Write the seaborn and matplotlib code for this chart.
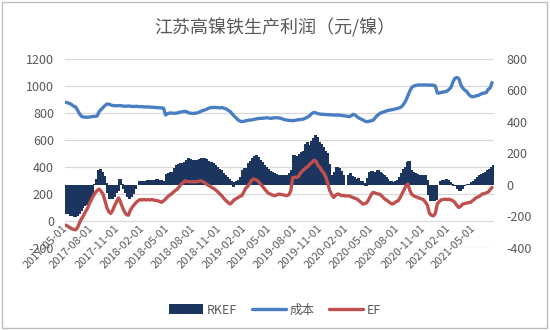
import numpy as np
import pandas as pd
import matplotlib
matplotlib.use("Agg")
import matplotlib.pyplot as plt
import matplotlib.dates as mdates
from matplotlib.patches import Patch, Rectangle
from matplotlib.lines import Line2D
import seaborn as sns

# Weekly series, starting 2017-05-01
start_date = "2017-05-01"

# Production cost (left axis)
cost = [
    879, 875, 870, 862, 850, 845, 820, 795, 775, 770,
    770, 768, 770, 772, 775, 775, 778, 810, 825, 840,
    855, 866, 866, 860, 855, 855, 853, 855, 855, 852,
    850, 850, 852, 850, 848, 848, 850, 848, 847, 847,
    845, 845, 845, 843, 843, 842, 840, 840, 838, 838,
    835, 785, 795, 800, 800, 798, 798, 800, 805, 808,
    810, 812, 808, 800, 798, 797, 798, 800, 805, 812,
    818, 822, 828, 835, 840, 840, 842, 840, 840, 838,
    840, 835, 830, 820, 812, 795, 778, 765, 750, 740,
    736, 738, 742, 745, 748, 748, 752, 755, 758, 760,
    760, 762, 763, 765, 762, 760, 763, 765, 765, 763,
    760, 755, 750, 748, 745, 745, 743, 745, 748, 750,
    752, 753, 758, 765, 772, 785, 798, 805, 800, 795,
    792, 790, 790, 788, 788, 787, 786, 785, 785, 785,
    784, 782, 780, 778, 775, 773, 780, 790, 785, 772,
    762, 755, 748, 740, 736, 738, 742, 745, 760, 778,
    790, 800, 805, 810, 815, 820, 822, 825, 828, 832,
    835, 840, 850, 870, 895, 930, 965, 990, 1000, 1005,
    1007, 1008, 1007, 1008, 1008, 1007, 1006, 1007, 1006, 1000,
    948, 948, 952, 955, 958, 962, 975, 990, 1030, 1057,
    1063, 1055, 1010, 985, 970, 960, 940, 925, 920, 922,
    928, 930, 938, 945, 948, 950, 975, 985, 1025,
]

# RKEF profit (right axis)
rkef = [
    -180, -182, -192, -196, -198, -196, -180, -165, -143, -130,
    -122, -110, -90, -60, 5, 38, 90, 100, 80, 57,
    10, -50, -85, -88, -70, -50, -38, 35, 5, -20,
    -50, -75, -88, -70, -55, -25, 0, 22, 25, 25,
    22, 28, 25, 30, 30, 28, 32, 30, 28, 15,
    20, 68, 75, 80, 82, 105, 123, 130, 135, 138,
    145, 155, 166, 160, 155, 155, 150, 155, 160, 166,
    166, 160, 150, 145, 140, 135, 125, 110, 100, 90,
    75, 62, 50, 35, 22, -10, 15, 25, 30, 45,
    90, 102, 0, 137, 150, 166, 178, 187, 175, 155,
    140, 125, 112, 100, 85, 80, 72, 65, 62, 58,
    60, 55, 62, 58, 75, 90, 187, 180, 176, 195,
    208, 210, 260, 272, 250, 275, 293, 315, 300, 272,
    255, 240, 215, 198, 130, 25, 60, 80, 112, 105,
    85, 60, 0, 0, 60, 70, 55, 45, 38, 40,
    25, 22, 10, -5, 40, 80, 85, 80, 75, 90,
    80, 70, 60, 46, 35, 25, 20, 17, 20, 30,
    46, 70, 100, 113, 140, 151, 91, 78, 70, 65,
    60, 62, 60, 58, 30, -60, -100, -100, -98, -90,
    0, 25, 30, 28, 32, 30, 17, 5, -5, -5,
    -25, -32, -20, -5, 0, 5, 5, 15, 25, 35,
    50, 60, 65, 75, 80, 90, 100, 113, 122,
]

# EF profit (right axis)
ef = [
    -255, -262, -270, -278, -282, -285, -270, -240, -215, -195,
    -170, -150, -120, -95, -70, -50, -35, -26, -40, -57,
    -100, -143, -170, -180, -160, -130, -105, -82, -110, -143,
    -170, -188, -192, -160, -140, -125, -110, -100, -92, -95,
    -92, -95, -93, -95, -92, -96, -98, -100, -105, -110,
    -100, -90, -75, -65, -57, -45, -35, -26, -10, 5,
    15, 27, 22, 21, 21, 21, 20, 21, 24, 27,
    22, 15, 5, -3, -10, -18, -25, -35, -47, -60,
    -72, -88, -100, -112, -121, -110, -95, -88, -80, -72,
    -68, -45, -20, -10, 10, 30, 38, 35, 27, 15,
    0, -15, -30, -45, -55, -60, -65, -68, -62, -58,
    -60, -62, -65, -68, -62, -40, 45, 50, 48, 55,
    75, 90, 100, 112, 120, 135, 144, 158, 150, 123,
    110, 90, 75, 50, 10, -36, -60, -79, -65, -57,
    -60, -68, -66, -70, -68, -70, -75, -80, -85, -90,
    -100, -110, -121, -118, -111, -90, -65, -47, -50, -55,
    -57, -62, -75, -88, -95, -105, -115, -121, -115, -105,
    -100, -80, -55, -30, -5, 6, -36, -60, -70, -75,
    -79, -85, -88, -95, -110, -130, -180, -192, -196, -180,
    -120, -105, -95, -92, -90, -92, -90, -95, -100, -111,
    -130, -143, -135, -121, -118, -115, -112, -110, -100, -90,
    -80, -75, -68, -57, -55, -50, -45, -30, -15,
]

tick_dates = pd.date_range("2017-05-01", "2021-05-01", freq="3MS")
tick_labels = [d.strftime("%Y-%m-%d") for d in tick_dates]

dates = pd.date_range(start_date, periods=len(cost), freq="7D")
df = pd.DataFrame({"date": dates, "成本": cost, "RKEF": rkef, "EF": ef})

sns.set_theme(style="white")
plt.rcParams["font.family"] = ["Noto Sans CJK SC", "DejaVu Sans"]
plt.rcParams["axes.unicode_minus"] = False

GRAY = "#595959"
NAVY = "#1C355E"
BLUE = "#4A7EC2"
RED = "#C0504D"

fig = plt.figure(figsize=(5.5, 3.3), dpi=100)
ax = fig.add_axes([65 / 550, 1 - 248 / 330, 429 / 550, 189 / 330])
ax2 = ax.twinx()

# Left axis: cost line and grid
ax.set_ylim(-200, 1200)
ax.set_yticks(np.arange(-200, 1201, 200))
ax.yaxis.grid(True, color="#D9D9D9", linewidth=0.9)
ax.set_axisbelow(True)
sns.lineplot(data=df, x="date", y="成本", ax=ax, color=BLUE, linewidth=2.4, legend=False)

# Right axis: RKEF weekly bars on numeric date positions, overlapping slightly
# and rendered without antialiasing so the columns merge into one block
ax2.set_ylim(-400, 800)
ax2.set_yticks(np.arange(-400, 801, 200))
bar_x = mdates.date2num(df["date"].dt.to_pydatetime())
ax2.bar(bar_x, df["RKEF"].to_numpy(), width=9.0, align="edge", color=NAVY,
        linewidth=0, antialiased=False, snap=False)
sns.lineplot(data=df, x="date", y="EF", ax=ax2, color=RED, linewidth=2.4, legend=False)

ax.set_xlim(pd.Timestamp("2017-04-28"), pd.Timestamp("2021-07-12"))
ax.set_xticks(tick_dates)
ax.set_xticklabels(tick_labels)
ax.spines["bottom"].set_position(("data", 0))

for a in (ax, ax2):
    for s in a.spines.values():
        s.set_visible(False)
    a.set_xlabel("")
    a.set_ylabel("")
    a.tick_params(length=0, colors=GRAY, labelsize=9)

ax.tick_params(axis="y", pad=8)
ax2.tick_params(axis="y", pad=9)
ax.tick_params(axis="x", labelsize=8, pad=4)
for lbl in ax.get_xticklabels():
    lbl.set_rotation(45)
    lbl.set_ha("right")
    lbl.set_va("center")
    lbl.set_rotation_mode("anchor")

fig.text(0.5, 1 - 28 / 330, "江苏高镍铁生产利润（元/镍）", ha="center", va="center",
         fontsize=13, color=GRAY)

handles = [
    Patch(facecolor=NAVY, edgecolor="none", label="RKEF"),
    Line2D([0], [0], color=BLUE, linewidth=2.4, label="成本"),
    Line2D([0], [0], color=RED, linewidth=2.4, label="EF"),
]
leg = fig.legend(handles=handles, loc="center", bbox_to_anchor=(0.5, 1 - 310 / 330), ncol=3,
                 frameon=False, fontsize=9, handlelength=2.7, handleheight=0.8,
                 columnspacing=1.2, handletextpad=0.3)
for t in leg.get_texts():
    t.set_color(GRAY)

fig.add_artist(Rectangle((0.004, 0.006), 0.99, 0.988, transform=fig.transFigure,
                         fill=False, edgecolor="#BFBFBF", linewidth=1))

fig.savefig("out.png", dpi=100)
